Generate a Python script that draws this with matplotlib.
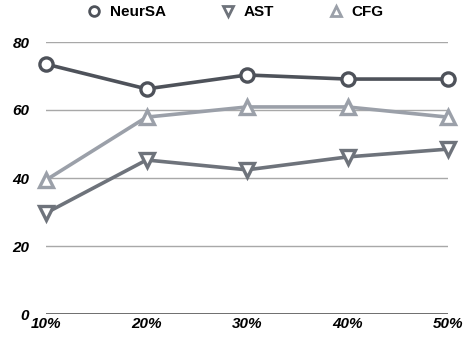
import matplotlib
matplotlib.use('Agg')
import matplotlib.pyplot as plt
from matplotlib.lines import Line2D

# data
ratios = ['10%', '20%', '30%', '40%', '50%']
neursa = [73.5, 66.2, 70.3, 69.1, 69.1]
ast = [29.7, 45.3, 42.4, 46.2, 48.5]
cfg = [39.4, 57.9, 60.9, 60.9, 57.9]
yticks = [0, 20, 40, 60, 80]

plt.rcParams['font.family'] = ['Liberation Sans', 'DejaVu Sans']

fig = plt.figure(figsize=(4.69, 3.40), dpi=100)
ax = fig.add_axes([46/469, 26/340, (448-46)/469, (314-42)/340])

x = list(range(len(ratios)))
series = [
    ('NeurSA', neursa, '#4e525a', 'o'),
    ('AST', ast, '#6e737b', 'v'),
    ('CFG', cfg, '#9ba0a9', '^'),
]

for label, vals, col, mk in series:
    ax.plot(x, vals, color=col, lw=2.6, marker=mk, markersize=9.5,
            markerfacecolor='white', markeredgecolor=col, markeredgewidth=2.4,
            clip_on=False, zorder=3)

ax.set_xlim(0, len(ratios) - 1)
ax.set_ylim(0, 80)
ax.set_yticks(yticks)
ax.set_xticks(x)
ax.set_xticklabels(ratios)

for yv in yticks[1:]:
    ax.axhline(yv, color='#a8a8a8', lw=1.0, zorder=1)
ax.axhline(0, color='#555555', lw=1.2, zorder=1)

for s in ax.spines.values():
    s.set_visible(False)
ax.tick_params(length=0)
ax.tick_params(axis='y', pad=12)
ax.tick_params(axis='x', pad=2)
for t in ax.get_xticklabels() + ax.get_yticklabels():
    t.set_fontweight('bold')
    t.set_fontstyle('italic')
    t.set_fontsize(11)
for t in ax.get_yticklabels():
    t.set_horizontalalignment('right')

handles = [Line2D([], [], ls='none', marker=mk, markersize=7, markerfacecolor='white',
                  markeredgecolor=col, markeredgewidth=2) for _, _, col, mk in series]
leg = fig.legend(handles, [s[0] for s in series], loc='upper center',
                 bbox_to_anchor=(0.5, 1.025), ncol=3, frameon=False,
                 prop={'weight': 'bold', 'size': 11}, columnspacing=3.5,
                 handletextpad=0.4, handlelength=1.2)

fig.savefig('out.png', dpi=100)
